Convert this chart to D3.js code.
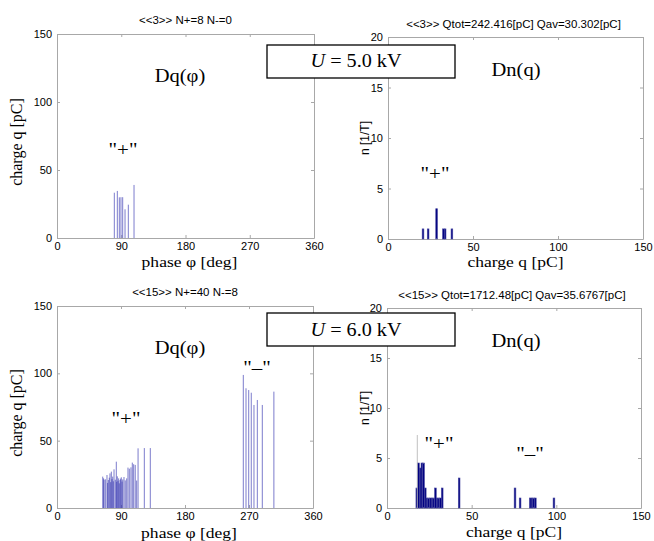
<!DOCTYPE html>
<html>
<head>
<meta charset="utf-8">
<script src="https://cdn.jsdelivr.net/npm/d3@7"></script>
<style>
  body { margin: 0; background: #fff; }
  svg { display: block; }
  .tick text { font-family: "Liberation Sans", Arial, sans-serif; font-size: 11px; fill: #000; }
  .tick line, .domain { stroke: #a8a8a8; }
  .serif { font-family: "Liberation Serif", "Times New Roman", serif; }
  .sans { font-family: "Liberation Sans", Arial, sans-serif; }
</style>
</head>
<body>
<div id="chart"></div>
<script>
// ticks
const phaseTicks = [0, 90, 180, 270, 360];
const chargeTicks = [0, 50, 100, 150];
const qTicks = [0, 50, 100, 150];
const nTicks = [0, 5, 10, 15, 20];

// U = 5.0 kV : single discharges (phase, charge)
const phaseU5 = [80.3, 84.5, 87.3, 89.6, 92.0, 95.3, 99.9, 107.9];
const chargeU5 = [33.3, 34.6, 29.9, 30.0, 30.0, 21.1, 24.5, 39.0];
// U = 5.0 kV : histogram (bin centre, count)
const binsU5 = [20.6, 23.6, 28.6, 32.6, 33.6, 37.6];
const countsU5 = [1, 1, 3, 1, 1, 1];

// U = 6.0 kV : single discharges
const phaseU6 = [64.3, 65.5, 66.2, 68.0, 70.3, 71.2, 72.2, 73.5, 74.5, 75.5,
  76.4, 77.3, 78.3, 79.2, 80.2, 82.0, 83.4, 84.0, 84.8, 85.8,
  86.7, 87.6, 88.6, 89.5, 90.4, 91.5, 92.4, 94.2, 96.0, 98.0,
  99.8, 101.7, 104.0, 105.9, 107.8, 110.0, 112.0, 114.0, 122.8, 131.2,
  262.0, 265.8, 269.6, 273.2, 277.0, 281.7, 288.7, 305.0];
const chargeU6 = [23.3, 22.0, 21.0, 21.3, 24.5, 18.6, 20.8, 22.5, 25.7, 19.2,
  27.0, 21.5, 23.3, 19.8, 28.7, 21.0, 34.4, 19.4, 23.5, 20.2,
  22.0, 18.3, 20.8, 21.8, 22.8, 19.6, 21.2, 23.0, 20.5, 22.0,
  30.0, 29.2, 30.2, 33.7, 32.5, 32.0, 20.4, 44.3, 44.5, 44.5,
  98.8, 88.9, 87.6, 85.6, 76.5, 80.2, 76.5, 86.4];
// U = 6.0 kV : histogram
const binsU6 = [17.6, 18.6, 19.6, 20.6, 21.6, 22.6, 23.6, 24.6, 25.6, 26.6, 27.6,
  28.6, 29.6, 30.6, 31.6, 32.6, 42.6, 75.6, 78.6, 84.6, 85.6, 86.6, 87.6, 98.6];
const countsU6 = [2, 4.5, 4, 4.5, 4.5, 2, 1, 1, 1, 1, 1,
  2, 1, 1, 1, 2, 3, 2, 1, 1, 1, 1, 1, 1];
// grey marker line in the 6.0 kV histogram
const markerU6 = { q: 17.9, n: 7.3 };

const titles = ['<<3>> N+=8 N-=0', '<<3>> Qtot=242.416[pC] Qav=30.302[pC]',
  '<<15>> N+=40 N-=8', '<<15>> Qtot=1712.48[pC] Qav=35.6767[pC]'];
const voltages = ['5.0', '6.0'];

const width = 654;
const height = 541;

const svg = d3.select('#chart')
  .append('svg')
  .attr('width', width)
  .attr('height', height);

svg.append('rect').attr('width', width).attr('height', height).attr('fill', '#fff');

function frame(g, x, y, xt, yt, box) {
  g.append('g')
    .attr('transform', `translate(0,${box.b})`)
    .call(d3.axisBottom(x).tickValues(xt).tickSizeInner(-3).tickSizeOuter(0).tickPadding(4));
  g.append('g')
    .attr('transform', `translate(${box.l},0)`)
    .call(d3.axisLeft(y).tickValues(yt).tickSizeInner(-3).tickSizeOuter(0).tickPadding(5));
  g.append('g')
    .attr('transform', `translate(0,${box.t})`)
    .call(d3.axisTop(x).tickValues(xt).tickSizeInner(-3).tickSizeOuter(0).tickFormat(''));
  g.append('g')
    .attr('transform', `translate(${box.r},0)`)
    .call(d3.axisRight(y).tickValues(yt).tickSizeInner(-3).tickSizeOuter(0).tickFormat(''));
}

// text, optionally stretched sideways like the scanned figure
function label(txt, x, y, size, cls, sx) {
  return svg.append('text')
    .attr('class', cls)
    .attr('transform', `translate(${x},${y}) scale(${sx || 1},1)`)
    .attr('font-size', size)
    .attr('text-anchor', 'middle')
    .text(txt);
}

// phase-resolved panel
function drawDq(box, phase, charge, title, xlabY) {
  const g = svg.append('g');
  const x = d3.scaleLinear().domain([0, 360]).range([box.l, box.r]);
  const y = d3.scaleLinear().domain([0, 150]).range([box.b, box.t]);
  frame(g, x, y, phaseTicks, chargeTicks, box);
  g.append('g')
    .selectAll('line')
    .data(phase)
    .join('line')
    .attr('x1', (d) => x(d))
    .attr('x2', (d) => x(d))
    .attr('y1', y(0))
    .attr('y2', (d, i) => y(charge[i]))
    .attr('stroke', '#3434b0')
    .attr('stroke-width', 0.65);
  label(title, (box.l + box.r) / 2, box.t - 10, 10, 'sans', 1.15);
  label('phase \u03C6 [deg]', (box.l + box.r) / 2 + 4, xlabY, 15, 'serif', 1.17);
  svg.append('text')
    .attr('class', 'serif')
    .attr('font-size', 16)
    .attr('text-anchor', 'middle')
    .attr('transform', `translate(22,${(box.t + box.b) / 2 + 6}) rotate(-90)`)
    .text('charge q [pC]');
  label('Dq(\u03C6)', 180, box.t + 48, 19, 'serif', 1.08);
}

// histogram panel
function drawDn(box, bins, counts, title, xlabY) {
  const g = svg.append('g');
  const x = d3.scaleLinear().domain([0, 150]).range([box.l, box.r]);
  const y = d3.scaleLinear().domain([0, 20]).range([box.b, box.t]);
  frame(g, x, y, qTicks, nTicks, box);
  g.append('g')
    .selectAll('rect')
    .data(bins)
    .join('rect')
    .attr('x', (d) => x(d - 0.5))
    .attr('width', (d) => x(d + 0.5) - x(d - 0.5))
    .attr('y', (d, i) => y(counts[i]))
    .attr('height', (d, i) => y(0) - y(counts[i]))
    .attr('fill', '#000080')
    .attr('stroke', '#4848a0')
    .attr('stroke-width', 0.6);
  label(title, (box.l + box.r) / 2 - 2, box.t - 9, 10, 'sans', 1.15);
  label('charge q [pC]', (box.l + box.r) / 2, xlabY, 15, 'serif', 1.17);
  svg.append('text')
    .attr('class', 'sans')
    .attr('font-size', 12)
    .attr('text-anchor', 'middle')
    .attr('transform', `translate(369,${(box.t + box.b) / 2}) rotate(-90)`)
    .text('n [1/T]');
  label('Dn(q)', 516, box.t + 39, 19, 'serif', 1.08);
  return { x, y };
}

const boxTL = { l: 57, r: 314, t: 34, b: 238 };
const boxTR = { l: 388, r: 643, t: 37, b: 239 };
const boxBL = { l: 57, r: 313, t: 306, b: 508 };
const boxBR = { l: 387, r: 641, t: 308, b: 508 };

drawDq(boxTL, phaseU5, chargeU5, titles[0], 267);
drawDn(boxTR, binsU5, countsU5, titles[1], 267);
drawDq(boxBL, phaseU6, chargeU6, titles[2], 538);
const br = drawDn(boxBR, binsU6, countsU6, titles[3], 537);

svg.append('line')
  .attr('x1', br.x(markerU6.q)).attr('x2', br.x(markerU6.q))
  .attr('y1', br.y(0)).attr('y2', br.y(markerU6.n))
  .attr('stroke', '#b0b0b0')
  .attr('stroke-width', 0.8);

// polarity labels
label('"+"', 123, 156, 19, 'serif', 1.1);
label('"+"', 435, 180, 19, 'serif', 1.1);
label('"+"', 126, 425, 19, 'serif', 1.1);
label('"\u2013"', 257, 374, 19, 'serif', 1.1);
label('"+"', 439, 450, 19, 'serif', 1.1);
label('"\u2013"', 530, 460, 19, 'serif', 1.1);

// voltage boxes
[[45, 78, 67], [313, 346, 336]].forEach((b, i) => {
  svg.append('rect')
    .attr('x', 267).attr('y', b[0])
    .attr('width', 455 - 267).attr('height', b[1] - b[0])
    .attr('fill', '#fff')
    .attr('stroke', '#000')
    .attr('stroke-width', 1.3);
  const t = label('', 356, b[2], 18, 'serif', 1.12);
  t.append('tspan').attr('font-style', 'italic').text('U');
  t.append('tspan').text(` = ${voltages[i]} kV`);
});
</script>
</body>
</html>
